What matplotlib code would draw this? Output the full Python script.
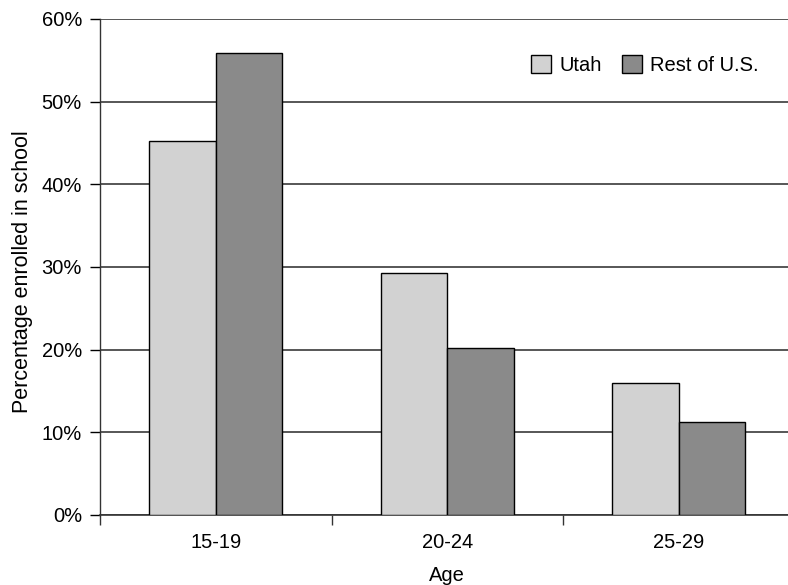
import numpy as np
import matplotlib
matplotlib.use("Agg")
from matplotlib import pyplot as plt
from matplotlib.ticker import PercentFormatter

ages = ["15-19", "20-24", "25-29"]
utah = [45.3, 29.3, 16.0]
rest_us = [55.9, 20.2, 11.3]

plt.rcParams['font.family'] = ['Liberation Sans', 'DejaVu Sans']
fs = 14.5

fig = plt.figure(figsize=(7.88, 5.85), dpi=100)
ax = fig.add_axes([100 / 788, 70 / 585, 694.5 / 788, 496 / 585])

x = np.arange(len(ages))
w = 0.287
ax.bar(x - w / 2, utah, w, color="#d2d2d2", edgecolor="black", linewidth=1.0,
       label="Utah", zorder=3)
ax.bar(x + w / 2, rest_us, w, color="#8a8a8a", edgecolor="black", linewidth=1.0,
       label="Rest of U.S.", zorder=3)

ax.set_xlim(-0.5, 2.5)
ax.set_ylim(0, 60)
ax.set_yticks(range(0, 61, 10))
ax.yaxis.set_major_formatter(PercentFormatter(decimals=0))
ax.yaxis.grid(True, color="#3a3a3a", linewidth=1.2, zorder=0)
ax.set_axisbelow(True)

# category labels centred, ticks on the group boundaries
ax.set_xticks(x)
ax.set_xticklabels(ages)
ax.tick_params(axis="x", which="major", length=0, pad=13, labelsize=fs)
ax.set_xticks([-0.5, 0.5, 1.5, 2.5], minor=True)
ax.tick_params(axis="x", which="minor", length=7, width=1.0, color="#333333")
ax.tick_params(axis="y", length=7, width=1.0, pad=6, labelsize=fs)

for side in ["top", "right"]:
    ax.spines[side].set_visible(False)
ax.spines["left"].set_color("#333333")
ax.spines["bottom"].set_color("#333333")
ax.spines["left"].set_linewidth(1.0)
ax.spines["bottom"].set_linewidth(1.2)

ax.set_ylabel("Percentage enrolled in school", fontsize=15.5, labelpad=9)
ax.yaxis.set_label_coords(-0.097, 0.49)
ax.set_xlabel("Age", fontsize=fs, labelpad=10)

ax.legend(loc="center left", bbox_to_anchor=(521 / 788, 1 - 65 / 585),
          bbox_transform=fig.transFigure, ncol=2, frameon=False,
          handlelength=1.0, handleheight=1.0, handletextpad=0.4,
          columnspacing=1.0, borderpad=0, fontsize=fs)

fig.savefig("out.png", dpi=100)
